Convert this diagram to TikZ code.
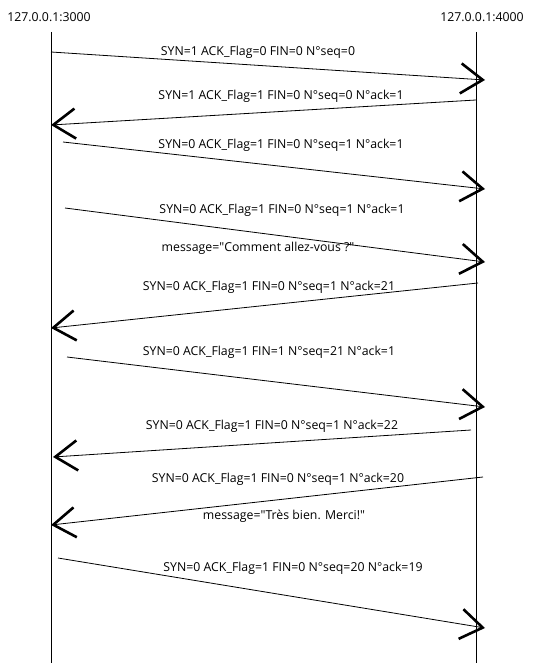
\documentclass[tikz,border=0pt]{standalone}
\usepackage{fontspec}
\setmainfont{Open Sans}
\usetikzlibrary{arrows.meta}

\begin{document}
\begin{tikzpicture}[x=1pt,y=-1pt,
  lbl/.style={font=\fontsize{12.3}{14}\selectfont, inner sep=0pt, anchor=center},
  life/.style={line width=0.8pt},
  msg/.style={line width=0.8pt, -{Straight Barb[length=22pt,width=30pt,line width=2.6pt]}}]
\useasboundingbox (0,0) rectangle (533,663);
% hosts
\node[lbl] (hostA) at (49,17) {127.0.0.1:3000};
\node[lbl] (hostB) at (482,17) {127.0.0.1:4000};
\coordinate (aTop) at (51,32);
\coordinate (aEnd) at (51,663);
\coordinate (bTop) at (476,32);
\coordinate (bEnd) at (476,663);
\draw[life] (aTop) -- (aEnd);
\draw[life] (bTop) -- (bEnd);
% segment ends
\coordinate (s1) at (51,52);   \coordinate (t1) at (485,80);
\coordinate (s2) at (476,100); \coordinate (t2) at (51,125);
\coordinate (s3) at (63,142);  \coordinate (t3) at (485,189);
\coordinate (s4) at (65,208);  \coordinate (t4) at (485,262);
\coordinate (s5) at (478,283); \coordinate (t5) at (51,328);
\coordinate (s6) at (67,357);  \coordinate (t6) at (485,407);
\coordinate (s7) at (471,430); \coordinate (t7) at (53,457);
\coordinate (s8) at (483,477); \coordinate (t8) at (51,525);
\coordinate (s9) at (58,558);  \coordinate (t9) at (485,628);
\draw[msg] (s1) -- (t1);
\draw[msg] (s2) -- (t2);
\draw[msg] (s3) -- (t3);
\draw[msg] (s4) -- (t4);
\draw[msg] (s5) -- (t5);
\draw[msg] (s6) -- (t6);
\draw[msg] (s7) -- (t7);
\draw[msg] (s8) -- (t8);
\draw[msg] (s9) -- (t9);
% labels
\node[lbl] (m1) at (258,52) {SYN=1 ACK\_Flag=0 FIN=0 N°seq=0};
\node[lbl] (m2) at (281,96) {SYN=1 ACK\_Flag=1 FIN=0 N°seq=0 N°ack=1};
\node[lbl] (m3) at (281,145) {SYN=0 ACK\_Flag=1 FIN=0 N°seq=1 N°ack=1};
\node[lbl] (m4) at (282,210) {SYN=0 ACK\_Flag=1 FIN=0 N°seq=1 N°ack=1};
\node[lbl] (d4) at (258,248) {message=\textquotedbl Comment allez-vous ?\textquotedbl};
\node[lbl] (m5) at (269,287) {SYN=0 ACK\_Flag=1 FIN=0 N°seq=1 N°ack=21};
\node[lbl] (m6) at (269,352) {SYN=0 ACK\_Flag=1 FIN=1 N°seq=21 N°ack=1};
\node[lbl] (m7) at (272,426) {SYN=0 ACK\_Flag=1 FIN=0 N°seq=1 N°ack=22};
\node[lbl] (m8) at (278,479) {SYN=0 ACK\_Flag=1 FIN=0 N°seq=1 N°ack=20};
\node[lbl] (d8) at (284,516) {message=\textquotedbl Très bien. Merci!\textquotedbl};
\node[lbl] (m9) at (293,568) {SYN=0 ACK\_Flag=1 FIN=0 N°seq=20 N°ack=19};
\end{tikzpicture}
\end{document}
